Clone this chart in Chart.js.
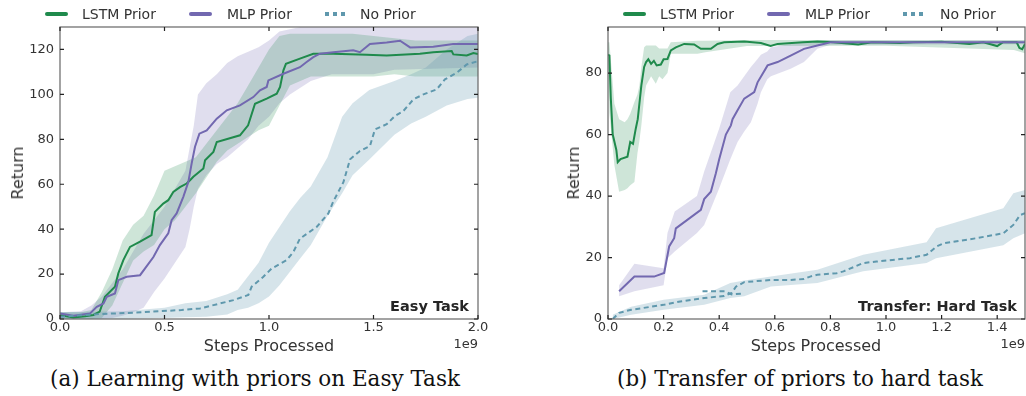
<!DOCTYPE html>
<html><head><meta charset="utf-8">
<script src="https://cdn.jsdelivr.net/npm/chart.js@4"></script>
<style>
body{margin:0;background:#fff;width:1026px;height:396px;overflow:hidden;position:relative;font-family:"DejaVu Sans",sans-serif;color:#333;}
canvas{position:absolute;top:0;display:block}
.t{position:absolute;white-space:nowrap;line-height:16px}
.lg{font-size:14px;top:6px}
.ln{position:absolute;top:12px;height:4px;border-radius:2px;width:23px}
.dash{position:absolute;top:12px;height:4px;width:20px}
.axt{font-size:16px}
.off{font-size:13px}
.tag{font-size:14.5px;font-weight:bold;color:#262626}
.cap{position:absolute;top:368px;font-family:"DejaVu Serif",serif;font-size:18px;color:#111;white-space:nowrap;line-height:22px}
</style></head>
<body>
<canvas id="easy" width="500" height="360" style="left:0;width:500px;height:360px"></canvas>
<canvas id="hard" width="486" height="360" style="left:540px;width:486px;height:360px"></canvas>

<!-- legends -->
<div class="ln" style="left:45px;background:#1f8a4c"></div><div class="t lg" style="left:82px">LSTM Prior</div>
<div class="ln" style="left:189px;background:#7268b0"></div><div class="t lg" style="left:227px">MLP Prior</div>
<div class="dash" style="left:325px;background:repeating-linear-gradient(to right,#5f98ad 0 4px,transparent 4px 8px)"></div><div class="t lg" style="left:360px">No Prior</div>

<div class="ln" style="left:623px;background:#1f8a4c"></div><div class="t lg" style="left:660px">LSTM Prior</div>
<div class="ln" style="left:767px;background:#7268b0"></div><div class="t lg" style="left:805px">MLP Prior</div>
<div class="dash" style="left:903px;background:repeating-linear-gradient(to right,#5f98ad 0 4px,transparent 4px 8px)"></div><div class="t lg" style="left:940px">No Prior</div>

<!-- axis titles -->
<div class="t axt" style="left:269px;top:338px;transform:translateX(-50%)">Steps Processed</div>
<div class="t axt" style="left:816px;top:338px;transform:translateX(-50%)">Steps Processed</div>
<div class="t axt" style="left:18px;top:173px;transform:translate(-50%,-50%) rotate(-90deg)">Return</div>
<div class="t axt" style="left:574px;top:173px;transform:translate(-50%,-50%) rotate(-90deg)">Return</div>
<div class="t off" style="right:548px;top:336px">1e9</div>
<div class="t off" style="right:1px;top:336px">1e9</div>
<div class="t tag" style="right:557px;top:298px">Easy Task</div>
<div class="t tag" style="right:9px;top:298px">Transfer: Hard Task</div>

<div class="cap" id="capA" style="left:255px">(a) Learning with priors on Easy Task</div>
<div class="cap" id="capB" style="left:800px">(b) Transfer of priors to hard task</div>

<script>
// ---------- tick values ----------
const easyXTicks = [0, 0.5, 1.0, 1.5, 2.0];
const easyYTicks = [0, 20, 40, 60, 80, 100, 120];
const hardXTicks = [0, 0.2, 0.4, 0.6, 0.8, 1.0, 1.2, 1.4];
const hardYTicks = [0, 20, 40, 60, 80];

// ---------- Easy task (x in units of 1e9 steps) ----------
const easyLstmX = [0,0.03,0.064,0.12,0.16,0.19,0.215,0.263,0.279,0.303,0.335,0.383,0.438,0.454,0.494,0.518,0.542,0.574,0.606,0.622,0.638,0.686,0.694,0.734,0.75,0.861,0.9,0.933,0.989,1.037,1.053,1.069,1.081,1.148,1.212,1.308,1.467,1.563,1.722,1.786,1.874,1.882,1.946,1.978,2.0];
const easyLstm  = [1.8,1.2,0.7,1.2,1.8,3.3,9.9,14.4,20.3,26.2,32.1,34.4,37.3,47.7,51.4,52.9,56.6,58.7,60.3,61.8,63.3,67,70.7,74.4,78.8,81.8,86.2,95.8,98.1,100.3,103.3,110.7,113.6,115.9,118.1,118.1,117.6,117.3,118.1,118.8,119.3,117.8,117.3,118.4,118];
const easyLstmBandX = [0,0.1,0.15,0.2,0.25,0.3,0.35,0.4,0.45,0.5,0.55,0.6,0.65,0.7,0.75,0.8,0.85,0.9,0.95,1.0,1.05,1.1,1.2,1.3,1.4,1.5,1.6,1.7,1.8,1.9,2.0];
const easyLstmHi = [3,3,4,12,22,35,42,46,55,66,68,70,72,78,84,90,96,104,112,120,126,127,127,127,127,126,125,124,124,124,124];
const easyLstmLo = [0,0,0,0.5,6,16,26,30,33,40,44,50,56,63,70,75,78,81,84,86,95,104,108,108,108,108,109,108,108,108,108];

const easyMlpX = [0,0.064,0.144,0.176,0.208,0.224,0.263,0.279,0.319,0.383,0.447,0.478,0.518,0.534,0.558,0.59,0.614,0.63,0.646,0.667,0.702,0.75,0.798,0.861,0.925,0.957,0.989,0.997,1.069,1.148,1.18,1.212,1.244,1.308,1.403,1.435,1.483,1.563,1.627,1.675,1.786,1.882,2.0];
const easyMlp  = [2.5,1.4,2.5,5.4,6.9,9.9,11.4,17.3,18.8,19.5,27.6,32.9,38.1,44,47,54.4,61,69.3,76.7,82.5,84,89.2,92.9,95.1,98.8,101.8,103.3,106.2,109.2,112.1,114.4,116.6,118.1,118.8,119.6,118.8,122.4,123.1,123.9,120.9,121.2,122.4,122.4];
const easyMlpBandX = [0,0.1,0.15,0.2,0.25,0.3,0.35,0.4,0.45,0.5,0.55,0.6,0.62,0.64,0.66,0.7,0.75,0.8,0.85,0.9,0.95,1.0,1.05,1.1,1.15,1.2,1.3,1.5,1.6,2.0];
const easyMlpHi = [3,3.5,6,10,16,22,30,38,44,50,58,66,76,86,100,105,109,114,117,119,121,124,128,129,130,130,130,130,130,130];
const easyMlpLo = [0,0,0,0,0.5,1.5,3,5,12,18,25,32,40,50,58,64,69,72,76,80,86,90,96,100,103,106,109,109,111,112];

const easyNoX = [0,0.191,0.351,0.582,0.67,0.83,0.901,0.917,0.973,1.013,1.085,1.117,1.148,1.228,1.284,1.308,1.356,1.388,1.435,1.483,1.507,1.563,1.603,1.643,1.691,1.739,1.802,1.842,1.898,1.946,2.0];
const easyNo  = [1.0,2.2,2.8,4,4.7,8.4,10.7,14.4,18.8,22.5,26.2,29.9,35.8,41,47,52.4,60.9,71.1,74.8,77,84.4,86.7,90.4,92.6,97.8,100,102.2,106.7,109.6,113.3,114.8];
const easyNoBandX = [0,0.3,0.5,0.6,0.7,0.8,0.85,0.9,0.95,1.0,1.05,1.1,1.15,1.2,1.28,1.35,1.4,1.48,1.6,1.68,1.75,1.85,1.95,2.0];
const easyNoHi = [3,3.5,5,7,8,11,13,19,25,34,41,48,54,59,72,90,96,102,106,109,112,120,126,127];
const easyNoLo = [0,0,0.5,0.8,1,2,4,5,7,10,15,21,27,33,46,56,64,71,82,87,90,95,98,98.5];

// ---------- Transfer: hard task ----------
const hardLstmX = [0,0.005,0.01,0.017,0.03,0.035,0.045,0.07,0.08,0.09,0.1,0.107,0.12,0.13,0.137,0.145,0.155,0.165,0.175,0.19,0.2,0.214,0.226,0.244,0.274,0.31,0.334,0.37,0.394,0.418,0.49,0.55,0.585,0.61,0.7,0.753,0.8,0.9,0.95,1.05,1.1,1.2,1.3,1.35,1.4,1.42,1.47,1.48,1.49,1.5];
const hardLstm  = [86,85.7,72,60,55,51,52,52.8,57.6,57,62,65,76,82,83.6,84.5,83,84,82.5,82.8,84.5,84.6,87.4,88.4,89.5,89.3,87.9,87.9,89.5,90,90.3,89.8,88.8,89.5,90,90.3,90.1,89.3,90,89.8,90,90.2,89.5,90,88.8,90,90,88.2,87.8,89.5];
const hardLstmBandX = [0,0.005,0.023,0.04,0.06,0.07,0.08,0.095,0.106,0.113,0.12,0.13,0.137,0.155,0.172,0.184,0.196,0.214,0.226,0.322,0.35,0.5,1.0,1.46,1.5];
const hardLstmHi = [90,90,70,65,64,65,66.8,70.6,73,76,82,88.4,89,89,89,88,88,88,90,90.5,90.5,90.8,90.8,90.8,90.8];
const hardLstmLo = [80,67,50,41.4,42,42.5,43.5,44.6,54,58,63,72,76,79,76.5,79,78,80,86.3,86.3,86.8,88.8,88.9,87.5,86.5];

const hardMlpX = [0.04,0.095,0.166,0.202,0.22,0.238,0.244,0.334,0.346,0.37,0.388,0.4,0.424,0.442,0.448,0.466,0.49,0.526,0.538,0.574,0.61,0.657,0.705,0.753,0.8,1.0,1.2,1.5];
const hardMlp  = [9,13.8,13.8,15,23.6,26.3,29.5,35.5,39,41.4,47.4,52,60,63,65,67.9,71.7,73.8,77,82.5,83.6,85.7,87.9,89,90,90,90,90];
const hardMlpBandX = [0.04,0.095,0.2,0.214,0.24,0.32,0.346,0.4,0.44,0.466,0.49,0.514,0.538,0.55,0.573,0.586,0.657,0.705,0.753,0.8,1.5];
const hardMlpHi = [11,18,16.5,28,35,40,48,62,73.8,76,79,82,84.6,86,87,88.4,89.5,90,90.5,90.6,90.6];
const hardMlpLo = [7.4,9,11,19.8,22,28,30.6,42.5,52,57.6,61,64,70,73.8,78,79,81.4,83.6,87.9,89.2,89.4];

const hardNoX = [0.017,0.04,0.083,0.2,0.26,0.346,0.418,0.445,0.46,0.49,0.586,0.657,0.705,0.727,0.753,0.823,0.847,0.918,0.966,1.086,1.146,1.182,1.206,1.326,1.422,1.458,1.482,1.5];
const hardNo  = [0,2,3,4.6,5.7,6.8,7.5,8.5,10.5,12,12.7,12.7,13,13.8,14.4,14.9,15.5,18.2,18.7,19.8,20.9,23.6,24.6,26.3,27.9,30.6,33.8,34.4];
const hardNoSegX = [0.34,0.42,0.445,0.49];
const hardNoSeg  = [9,9,8,8.3];
const hardNoBandX = [0.017,0.083,0.2,0.346,0.44,0.49,0.586,0.753,0.918,1.146,1.18,1.422,1.458,1.5];
const hardNoHi = [1.4,4,6.3,7.9,11.7,12.5,13.8,16,20.9,25,29.5,36,40.9,42];
const hardNoLo = [0,1.4,3,4.6,6.8,7.4,10.6,11.7,15.5,18.2,19.8,24,26.3,27.9];

// ---------- styling ----------
const GREEN = '#1f8a4c', PURPLE = '#7268b0', BLUE = '#5f98ad';
const GREEN_BAND = 'rgba(31,138,76,0.22)', PURPLE_BAND = 'rgba(114,104,176,0.22)', BLUE_BAND = 'rgba(95,152,173,0.26)';

const pts = (xs, ys) => xs.map((x, i) => ({x: x, y: ys[i]}));

function bandSets(startIdx, xs, hi, lo, color) {
  return [
    {data: pts(xs, hi), borderWidth: 0, pointRadius: 0, backgroundColor: color,
     fill: {target: startIdx + 1, above: color, below: color}, order: 2},
    {data: pts(xs, lo), borderWidth: 0, pointRadius: 0, fill: false, order: 2}
  ];
}
function lineSet(xs, ys, color, dash) {
  return {data: pts(xs, ys), borderColor: color, borderWidth: 2, pointRadius: 0, fill: false,
          tension: 0, borderDash: dash || [], order: 0, borderCapStyle: 'butt'};
}

const frameTicks = {
  id: 'frameTicks',
  afterDatasetsDraw(chart) {
    const {ctx, chartArea: a, scales: {x, y}} = chart;
    ctx.save();
    ctx.strokeStyle = '#666'; ctx.lineWidth = 1.2;
    ctx.strokeRect(a.left, a.top, a.right - a.left, a.bottom - a.top);
    ctx.strokeStyle = '#222'; ctx.lineWidth = 1.2;
    ctx.beginPath();
    x.ticks.forEach(t => {
      const p = x.getPixelForValue(t.value);
      ctx.moveTo(p, a.bottom); ctx.lineTo(p, a.bottom - 4);
      ctx.moveTo(p, a.top); ctx.lineTo(p, a.top + 4);
    });
    y.ticks.forEach(t => {
      const p = y.getPixelForValue(t.value);
      ctx.moveTo(a.left, p); ctx.lineTo(a.left + 4, p);
      ctx.moveTo(a.right, p); ctx.lineTo(a.right - 4, p);
    });
    ctx.stroke();
    ctx.restore();
  }
};

function makeChart(id, datasets, xMax, xTicks, yMax, yTicks, yAxisWidth, rightPad) {
  const tickFont = {family: 'DejaVu Sans', size: 13};
  return new Chart(document.getElementById(id), {
    type: 'line',
    data: {datasets: datasets},
    plugins: [frameTicks],
    options: {
      responsive: false, animation: false, devicePixelRatio: 1,
      layout: {padding: {top: 27, right: rightPad, left: 0, bottom: 0}, autoPadding: false},
      plugins: {legend: {display: false}, tooltip: {enabled: false}},
      elements: {line: {tension: 0}},
      scales: {
        x: {type: 'linear', min: 0, max: xMax,
            ticks: {font: tickFont, color: '#333', padding: 1, maxRotation: 0, autoSkip: false,
                    callback: v => Number(v).toFixed(1)},
            grid: {display: false, drawTicks: false}, border: {display: false},
            afterBuildTicks: s => { s.ticks = xTicks.map(v => ({value: v})); },
            afterFit: s => { s.height = 41; }},
        y: {type: 'linear', min: 0, max: yMax,
            ticks: {font: tickFont, color: '#333', padding: 6, autoSkip: false,
                    callback: v => String(v)},
            grid: {display: false, drawTicks: false}, border: {display: false},
            afterBuildTicks: s => { s.ticks = yTicks.map(v => ({value: v})); },
            afterFit: s => { s.width = yAxisWidth; }}
      }
    }
  });
}

const easyDatasets = [].concat(
  bandSets(0, easyNoBandX, easyNoHi, easyNoLo, BLUE_BAND),
  bandSets(2, easyLstmBandX, easyLstmHi, easyLstmLo, GREEN_BAND),
  bandSets(4, easyMlpBandX, easyMlpHi, easyMlpLo, PURPLE_BAND),
  [lineSet(easyNoX, easyNo, BLUE, [5, 3.5]),
   lineSet(easyMlpX, easyMlp, PURPLE),
   lineSet(easyLstmX, easyLstm, GREEN)]
);
makeChart('easy', easyDatasets, 2.0, easyXTicks, 130, easyYTicks, 60, 22);

const hardDatasets = [].concat(
  bandSets(0, hardNoBandX, hardNoHi, hardNoLo, BLUE_BAND),
  bandSets(2, hardLstmBandX, hardLstmHi, hardLstmLo, GREEN_BAND),
  bandSets(4, hardMlpBandX, hardMlpHi, hardMlpLo, PURPLE_BAND),
  [lineSet(hardNoX, hardNo, BLUE, [5, 3.5]),
   lineSet(hardNoSegX, hardNoSeg, BLUE, [5, 3.5]),
   lineSet(hardMlpX, hardMlp, PURPLE),
   lineSet(hardLstmX, hardLstm, GREEN)]
);
makeChart('hard', hardDatasets, 1.5, hardXTicks, 95, hardYTicks, 68, 1);

// fit caption widths to reference
[['capA', 410], ['capB', 366]].forEach(([id, w]) => {
  const el = document.getElementById(id);
  const cur = el.getBoundingClientRect().width;
  const fs = 18 * w / cur;
  el.style.fontSize = fs.toFixed(2) + 'px';
  el.style.transform = 'translateX(-50%)';
});
</script>
</body></html>
